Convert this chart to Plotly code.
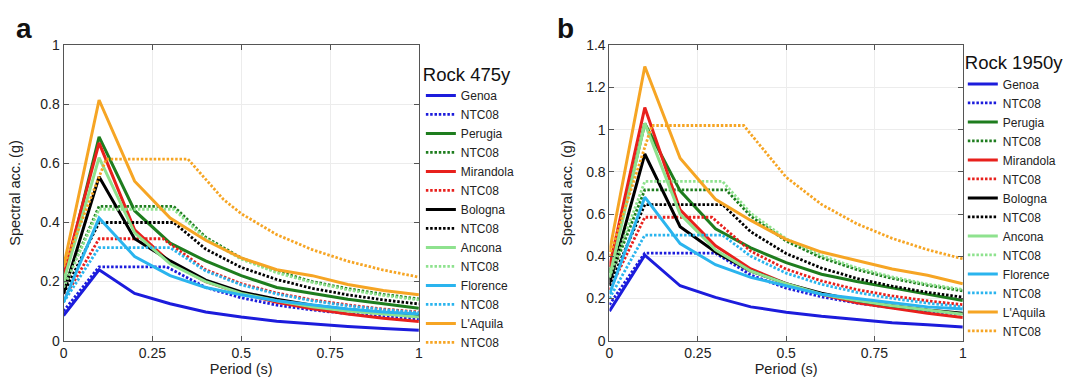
import plotly.graph_objects as go

# ---------------- data ----------------
PERIODS = [0.0, 0.1, 0.2, 0.3, 0.4, 0.5, 0.6, 0.7, 0.8, 0.9, 1.0]
CITIES = ["Genoa", "Perugia", "Mirandola", "Bologna", "Ancona", "Florence", "L'Aquila"]
COLORS = ["#1c1cdc", "#1e7d1e", "#e8201c", "#000000", "#8ee28e", "#2ab4ee", "#f6a524"]

# Panel a: Rock 475y (observed spectra)
A_GENOA = [0.085, 0.24, 0.16, 0.125, 0.097, 0.08, 0.066, 0.056, 0.048, 0.041, 0.035]
A_PERUGIA = [0.2, 0.69, 0.44, 0.33, 0.27, 0.22, 0.18, 0.16, 0.14, 0.125, 0.11]
A_MIRANDOLA = [0.22, 0.67, 0.375, 0.265, 0.2, 0.16, 0.13, 0.108, 0.09, 0.076, 0.065]
A_BOLOGNA = [0.16, 0.555, 0.345, 0.27, 0.205, 0.165, 0.14, 0.12, 0.105, 0.094, 0.085]
A_ANCONA = [0.2, 0.62, 0.365, 0.26, 0.2, 0.16, 0.135, 0.115, 0.1, 0.09, 0.08]
A_FLORENCE = [0.13, 0.415, 0.285, 0.22, 0.18, 0.155, 0.135, 0.12, 0.107, 0.097, 0.09]
A_LAQUILA = [0.25, 0.815, 0.54, 0.415, 0.34, 0.28, 0.24, 0.22, 0.19, 0.17, 0.155]

# Panel a: NTC08 code spectra (periods, values)
A_GENOA_NTC_T = [0, 0.1, 0.29, 0.4, 0.5, 0.6, 0.7, 0.8, 0.9, 1.0]
A_GENOA_NTC = [0.1, 0.25, 0.25, 0.18, 0.145, 0.12, 0.104, 0.091, 0.081, 0.073]
A_PERUGIA_NTC_T = [0, 0.1, 0.31, 0.4, 0.5, 0.6, 0.7, 0.8, 0.9, 1.0]
A_PERUGIA_NTC = [0.18, 0.455, 0.455, 0.35, 0.28, 0.235, 0.2, 0.176, 0.157, 0.141]
A_MIRANDOLA_NTC_T = [0, 0.1, 0.28, 0.4, 0.5, 0.6, 0.7, 0.8, 0.9, 1.0]
A_MIRANDOLA_NTC = [0.14, 0.345, 0.345, 0.24, 0.193, 0.161, 0.138, 0.121, 0.107, 0.097]
A_BOLOGNA_NTC_T = [0, 0.1, 0.31, 0.4, 0.5, 0.6, 0.7, 0.8, 0.9, 1.0]
A_BOLOGNA_NTC = [0.16, 0.4, 0.4, 0.31, 0.248, 0.207, 0.177, 0.155, 0.138, 0.124]
A_ANCONA_NTC_T = [0, 0.1, 0.31, 0.4, 0.5, 0.6, 0.7, 0.8, 0.9, 1.0]
A_ANCONA_NTC = [0.18, 0.445, 0.445, 0.345, 0.276, 0.23, 0.197, 0.172, 0.153, 0.138]
A_FLORENCE_NTC_T = [0, 0.1, 0.3, 0.4, 0.5, 0.6, 0.7, 0.8, 0.9, 1.0]
A_FLORENCE_NTC = [0.13, 0.315, 0.315, 0.236, 0.189, 0.158, 0.135, 0.118, 0.105, 0.095]
A_LAQUILA_NTC_T = [0, 0.12, 0.35, 0.45, 0.5, 0.6, 0.7, 0.8, 0.9, 1.0]
A_LAQUILA_NTC = [0.25, 0.615, 0.615, 0.478, 0.43, 0.359, 0.308, 0.269, 0.239, 0.215]

# Panel b: Rock 1950y (observed spectra)
B_GENOA = [0.14, 0.405, 0.26, 0.205, 0.16, 0.135, 0.115, 0.1, 0.085, 0.075, 0.065]
B_PERUGIA = [0.32, 1.03, 0.71, 0.53, 0.44, 0.37, 0.315, 0.28, 0.25, 0.22, 0.19]
B_MIRANDOLA = [0.35, 1.105, 0.62, 0.45, 0.34, 0.27, 0.22, 0.18, 0.155, 0.13, 0.11]
B_BOLOGNA = [0.27, 0.885, 0.54, 0.42, 0.33, 0.27, 0.225, 0.19, 0.165, 0.145, 0.13]
B_ANCONA = [0.3, 1.03, 0.6, 0.43, 0.33, 0.27, 0.22, 0.19, 0.165, 0.145, 0.125]
B_FLORENCE = [0.22, 0.68, 0.46, 0.36, 0.3, 0.26, 0.22, 0.2, 0.18, 0.16, 0.15]
B_LAQUILA = [0.42, 1.3, 0.865, 0.67, 0.57, 0.48, 0.42, 0.38, 0.34, 0.31, 0.27]

# Panel b: NTC08 code spectra (periods, values)
B_GENOA_NTC_T = [0, 0.1, 0.3, 0.4, 0.5, 0.6, 0.7, 0.8, 0.9, 1.0]
B_GENOA_NTC = [0.17, 0.415, 0.415, 0.311, 0.249, 0.208, 0.178, 0.156, 0.138, 0.125]
B_PERUGIA_NTC_T = [0, 0.1, 0.33, 0.4, 0.5, 0.6, 0.7, 0.8, 0.9, 1.0]
B_PERUGIA_NTC = [0.29, 0.715, 0.715, 0.59, 0.472, 0.393, 0.337, 0.295, 0.262, 0.236]
B_MIRANDOLA_NTC_T = [0, 0.1, 0.29, 0.4, 0.5, 0.6, 0.7, 0.8, 0.9, 1.0]
B_MIRANDOLA_NTC = [0.24, 0.585, 0.585, 0.424, 0.339, 0.283, 0.242, 0.212, 0.189, 0.17]
B_BOLOGNA_NTC_T = [0, 0.1, 0.32, 0.4, 0.5, 0.6, 0.7, 0.8, 0.9, 1.0]
B_BOLOGNA_NTC = [0.26, 0.645, 0.645, 0.516, 0.413, 0.344, 0.295, 0.258, 0.229, 0.206]
B_ANCONA_NTC_T = [0, 0.1, 0.32, 0.4, 0.5, 0.6, 0.7, 0.8, 0.9, 1.0]
B_ANCONA_NTC = [0.3, 0.755, 0.755, 0.604, 0.483, 0.403, 0.345, 0.302, 0.268, 0.242]
B_FLORENCE_NTC_T = [0, 0.1, 0.32, 0.4, 0.5, 0.6, 0.7, 0.8, 0.9, 1.0]
B_FLORENCE_NTC = [0.2, 0.5, 0.5, 0.4, 0.32, 0.267, 0.229, 0.2, 0.178, 0.16]
B_LAQUILA_NTC_T = [0, 0.12, 0.38, 0.5, 0.6, 0.7, 0.8, 0.9, 1.0]
B_LAQUILA_NTC = [0.4, 1.02, 1.02, 0.775, 0.646, 0.554, 0.485, 0.431, 0.388]

X_TICKS = [0, 0.25, 0.5, 0.75, 1]
X_TICK_TEXT = ["0", "0.25", "0.5", "0.75", "1"]
A_Y_TICKS = [0, 0.2, 0.4, 0.6, 0.8, 1.0]
A_Y_TICK_TEXT = ["0", "0.2", "0.4", "0.6", "0.8", "1"]
B_Y_TICKS = [0, 0.2, 0.4, 0.6, 0.8, 1.0, 1.2, 1.4]
B_Y_TICK_TEXT = ["0", "0.2", "0.4", "0.6", "0.8", "1", "1.2", "1.4"]

PANELS = [
    dict(xa="x", ya="y", legend="legend",
         obs=[A_GENOA, A_PERUGIA, A_MIRANDOLA, A_BOLOGNA, A_ANCONA, A_FLORENCE, A_LAQUILA],
         ntc_t=[A_GENOA_NTC_T, A_PERUGIA_NTC_T, A_MIRANDOLA_NTC_T, A_BOLOGNA_NTC_T,
                A_ANCONA_NTC_T, A_FLORENCE_NTC_T, A_LAQUILA_NTC_T],
         ntc=[A_GENOA_NTC, A_PERUGIA_NTC, A_MIRANDOLA_NTC, A_BOLOGNA_NTC,
              A_ANCONA_NTC, A_FLORENCE_NTC, A_LAQUILA_NTC]),
    dict(xa="x2", ya="y2", legend="legend2",
         obs=[B_GENOA, B_PERUGIA, B_MIRANDOLA, B_BOLOGNA, B_ANCONA, B_FLORENCE, B_LAQUILA],
         ntc_t=[B_GENOA_NTC_T, B_PERUGIA_NTC_T, B_MIRANDOLA_NTC_T, B_BOLOGNA_NTC_T,
                B_ANCONA_NTC_T, B_FLORENCE_NTC_T, B_LAQUILA_NTC_T],
         ntc=[B_GENOA_NTC, B_PERUGIA_NTC, B_MIRANDOLA_NTC, B_BOLOGNA_NTC,
              B_ANCONA_NTC, B_FLORENCE_NTC, B_LAQUILA_NTC]),
]

FONT = "Liberation Sans, Arial, Helvetica, sans-serif"

fig = go.Figure()
for p in PANELS:
    for i, city in enumerate(CITIES):
        fig.add_trace(go.Scatter(
            x=PERIODS, y=p["obs"][i], mode="lines", name=city,
            line=dict(color=COLORS[i], width=3),
            xaxis=p["xa"], yaxis=p["ya"], legend=p["legend"]))
        fig.add_trace(go.Scatter(
            x=p["ntc_t"][i], y=p["ntc"][i], mode="lines", name="NTC08",
            line=dict(color=COLORS[i], width=2.8, dash="2.5px,1.8px"),
            xaxis=p["xa"], yaxis=p["ya"], legend=p["legend"]))

W, H = 1075, 386


def axis_common():
    return dict(showline=True, linecolor="#555", linewidth=1, mirror="ticks",
                ticks="inside", ticklen=5, tickcolor="#555",
                showgrid=True, gridcolor="#ececec", gridwidth=1, zeroline=False,
                tickfont=dict(family=FONT, size=14, color="#222"),
                title_font=dict(family=FONT, size=14.5, color="#222"))


ydom = [(H - 347) / H, (H - 39) / H]
fig.update_layout(
    width=W, height=H, margin=dict(l=0, r=0, t=0, b=0),
    paper_bgcolor="white", plot_bgcolor="white",
    font=dict(family=FONT, color="#222"),
    xaxis=dict(domain=[60 / W, 418 / W], range=[0, 1], tickvals=X_TICKS, ticktext=X_TICK_TEXT,
               anchor="y", title=dict(text="Period (s)", standoff=3), **axis_common()),
    yaxis=dict(domain=ydom, range=[0, 1], tickvals=A_Y_TICKS, ticktext=A_Y_TICK_TEXT,
               anchor="x", title=dict(text="Spectral acc. (g)", standoff=16), **axis_common()),
    xaxis2=dict(domain=[610 / W, 966 / W], range=[0, 1], tickvals=X_TICKS, ticktext=X_TICK_TEXT,
                anchor="y2", title=dict(text="Period (s)", standoff=3), **axis_common()),
    yaxis2=dict(domain=ydom, range=[0, 1.4], tickvals=B_Y_TICKS, ticktext=B_Y_TICK_TEXT,
                anchor="x2", title=dict(text="Spectral acc. (g)", standoff=10), **axis_common()),
    legend=dict(x=420 / W, y=1 - 51 / H, xanchor="left", yanchor="top",
                bgcolor="rgba(0,0,0,0)", tracegroupgap=0, itemwidth=30,
                font=dict(family=FONT, size=12, color="#222"),
                title=dict(text="Rock 475y", font=dict(family=FONT, size=18.5, color="#111"))),
    legend2=dict(x=966 / W, y=1 - 39 / H, xanchor="left", yanchor="top",
                 bgcolor="rgba(0,0,0,0)", tracegroupgap=0, itemwidth=30,
                 font=dict(family=FONT, size=12, color="#222"),
                 title=dict(text="Rock 1950y", font=dict(family=FONT, size=18.5, color="#111"))),
    annotations=[
        dict(text="<b>a</b>", x=20 / W, y=1 - 21 / H, xref="paper", yref="paper",
             xanchor="center", yanchor="middle",
             showarrow=False, font=dict(family=FONT, size=28, color="#111")),
        dict(text="<b>b</b>", x=566 / W, y=1 - 21 / H, xref="paper", yref="paper",
             xanchor="center", yanchor="middle",
             showarrow=False, font=dict(family=FONT, size=28, color="#111")),
    ],
)

fig.write_html("out.html")
